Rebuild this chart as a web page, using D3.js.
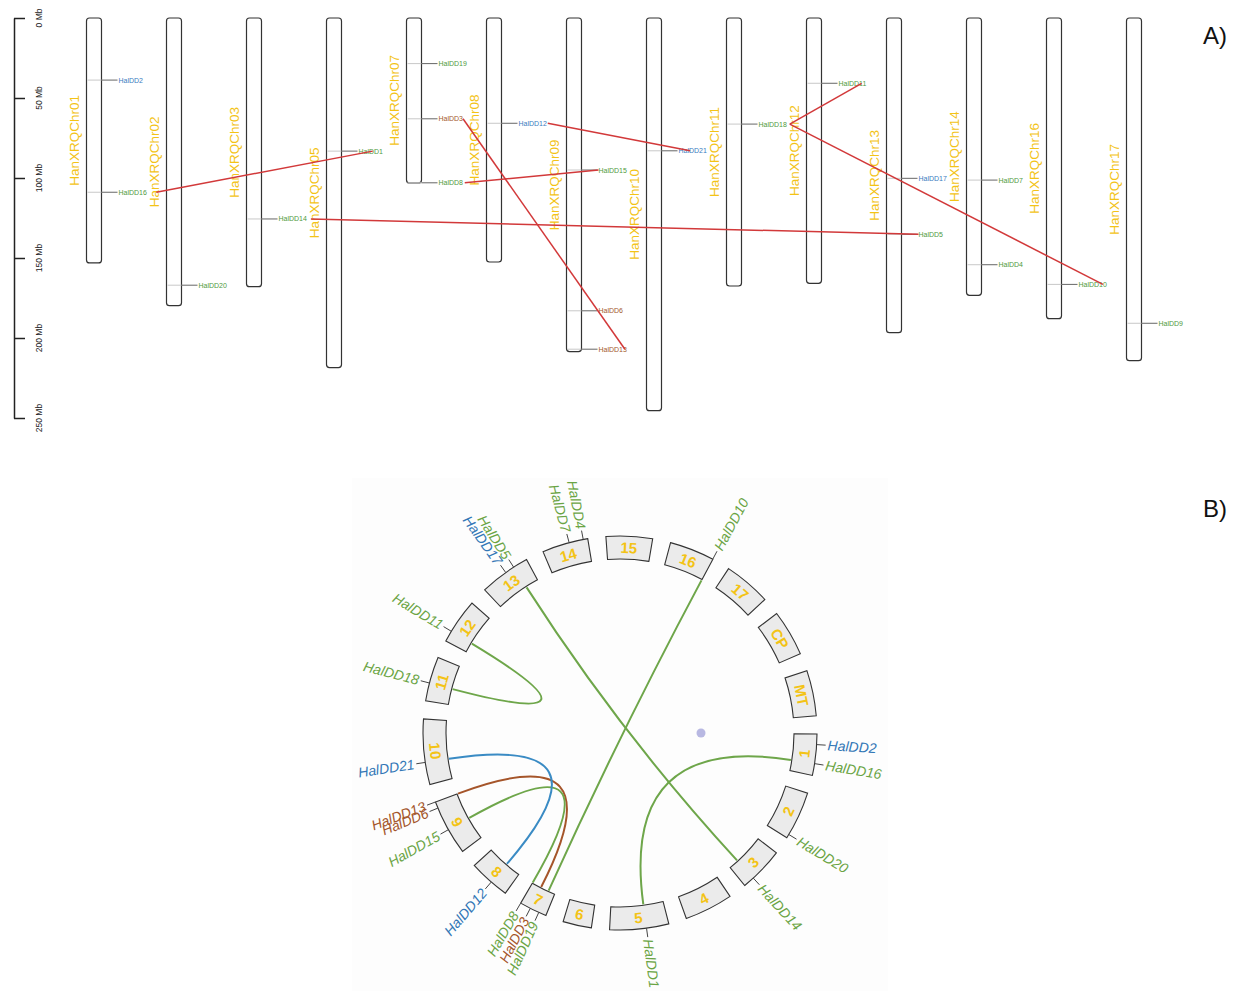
<!DOCTYPE html>
<html>
<head>
<meta charset="utf-8">
<script src="https://cdn.jsdelivr.net/npm/d3@7"></script>
<style>
  body { margin: 0; background: #fff; }
  svg { display: block; }
  text { font-family: "Liberation Sans", Arial, sans-serif; }
</style>
</head>
<body>
<svg id="chart" width="1244" height="991"></svg>
<script>
// ---------------- data ----------------
// Linear chromosome map (panel A): chromosomes and lengths in Mb
const chromosomes = ["HanXRQChr01","HanXRQChr02","HanXRQChr03","HanXRQChr05","HanXRQChr07",
  "HanXRQChr08","HanXRQChr09","HanXRQChr10","HanXRQChr11","HanXRQChr12","HanXRQChr13",
  "HanXRQChr14","HanXRQChr16","HanXRQChr17"];
const chrLengths = [153.1, 179.8, 167.9, 218.5, 103.1, 152.5, 208.5, 245.4, 167.5, 165.8, 196.7, 173.3, 187.9, 214.2];
const axisTicksMb = [0, 50, 100, 150, 200, 250];

// HalDD genes: chromosome, position (Mb) and subgroup
const geneNames = ["HalDD1","HalDD2","HalDD3","HalDD4","HalDD5","HalDD6","HalDD7","HalDD8","HalDD9","HalDD10",
  "HalDD11","HalDD12","HalDD13","HalDD14","HalDD15","HalDD16","HalDD17","HalDD18","HalDD19","HalDD20","HalDD21"];
const geneChrom = ["HanXRQChr05","HanXRQChr01","HanXRQChr07","HanXRQChr14","HanXRQChr13","HanXRQChr09","HanXRQChr14",
  "HanXRQChr07","HanXRQChr17","HanXRQChr16","HanXRQChr12","HanXRQChr08","HanXRQChr09","HanXRQChr03","HanXRQChr09",
  "HanXRQChr01","HanXRQChr13","HanXRQChr11","HanXRQChr07","HanXRQChr02","HanXRQChr10"];
const genePosMb = [83.2, 38.8, 63.0, 154.2, 135.2, 183.0, 101.3, 103.0, 190.8, 166.5,
  40.8, 65.8, 207.0, 125.6, 95.0, 108.9, 100.2, 66.3, 28.5, 167.0, 83.0];
const geneGroup = ["green","blue","brown","green","green","brown","green","green","green","green",
  "green","blue","brown","green","green","green","blue","green","green","green","blue"];

// Segmental duplication pairs shown on the linear map
const syntenyPairsA = [["HalDD16","HalDD1"],["HalDD14","HalDD5"],["HalDD3","HalDD13"],["HalDD8","HalDD15"],
  ["HalDD12","HalDD21"],["HalDD18","HalDD11"],["HalDD18","HalDD10"]];

// Circular view (panel B): ring segments and their sizes
const ringNames = ["1","2","3","4","5","6","7","8","9","10","11","12","13","14","15","16","17","CP","MT"];
const ringLengths = [153, 181, 167, 180, 219, 106, 103, 153, 207, 243, 165, 169, 190, 171, 172, 167, 175, 171, 169];
const circosGenes = ["HalDD2","HalDD16","HalDD20","HalDD14","HalDD1","HalDD19","HalDD3","HalDD8","HalDD12",
  "HalDD15","HalDD6","HalDD13","HalDD21","HalDD18","HalDD11","HalDD17","HalDD5","HalDD7","HalDD4","HalDD10"];
const syntenyPairsB = [["HalDD16","HalDD1"],["HalDD14","HalDD5"],["HalDD19","HalDD10"],["HalDD3","HalDD13"],
  ["HalDD8","HalDD15"],["HalDD12","HalDD21"],["HalDD18","HalDD11"]];

const panelLabels = ["A)", "B)"];

// ---------------- styling ----------------
const gold = "#f3c316";
const colA = { green: "#4f9a3c", blue: "#3b7cc0", brown: "#a4592b" };
const colB = { green: "#6aa444", blue: "#3377b6", brown: "#a4562b" };
const linkB = { green: "#6ea64a", blue: "#3a8bc4", brown: "#a5552a" };
const redLink = "#d2393a";

const svg = d3.select("#chart");
const gene = Object.fromEntries(geneNames.map((n, i) => [n, { name: n, chrom: geneChrom[i], pos: genePosMb[i], group: geneGroup[i] }]));

// ================= Panel A: linear map =================
const gA = svg.append("g");
const y = d3.scaleLinear().domain([0, 250]).range([18, 418]);
const x = d3.scaleBand().domain(chromosomes).range([54, 1174]).paddingInner(0).align(0.5);
const cxA = c => x(c) + x.bandwidth() / 2;
const barW = 15;

// scale bar
const axisG = gA.append("g").attr("transform", "translate(14,0)")
  .call(d3.axisRight(y).tickValues(axisTicksMb).tickSize(11).tickSizeOuter(0).tickFormat(""));
axisG.selectAll("path,line").attr("stroke", "#222").attr("stroke-width", 1.5);
gA.selectAll("text.tick-lab").data(axisTicksMb).join("text")
  .attr("class", "tick-lab")
  .attr("transform", d => `translate(42,${y(d)}) rotate(-90)`)
  .attr("text-anchor", "middle")
  .attr("font-size", 8.5).attr("fill", "#222")
  .text(d => d + " Mb");

// chromosome bars
gA.selectAll("rect.chr").data(chromosomes).join("rect")
  .attr("class", "chr")
  .attr("x", c => cxA(c) - barW / 2).attr("y", y(0))
  .attr("width", barW).attr("height", (c, i) => y(chrLengths[i]) - y(0))
  .attr("rx", 3).attr("fill", "#fff").attr("stroke", "#333").attr("stroke-width", 1.2);

gA.selectAll("text.chr-lab").data(chromosomes).join("text")
  .attr("class", "chr-lab")
  .attr("transform", (c, i) => `translate(${cxA(c) - 20},${y(chrLengths[i] / 2)}) rotate(-90)`)
  .attr("text-anchor", "middle").attr("dominant-baseline", "central")
  .attr("font-size", 13.5).attr("fill", gold)
  .text(c => c);

// gene markers
const genesA = geneNames.map(n => gene[n]);
gA.selectAll("line.gin").data(genesA).join("line")
  .attr("x1", g => cxA(g.chrom) - barW / 2 + 1).attr("x2", g => cxA(g.chrom) + barW / 2)
  .attr("y1", g => y(g.pos)).attr("y2", g => y(g.pos))
  .attr("stroke", "#c8c8c8").attr("stroke-width", 1);
gA.selectAll("line.gout").data(genesA).join("line")
  .attr("x1", g => cxA(g.chrom) + barW / 2).attr("x2", g => cxA(g.chrom) + barW / 2 + 16)
  .attr("y1", g => y(g.pos)).attr("y2", g => y(g.pos))
  .attr("stroke", "#666").attr("stroke-width", 1);
const labA = gA.selectAll("text.glab").data(genesA).join("text")
  .attr("class", "glab")
  .attr("x", g => cxA(g.chrom) + barW / 2 + 17).attr("y", g => y(g.pos))
  .attr("dominant-baseline", "central")
  .attr("font-size", 7).attr("fill", g => colA[g.group])
  .text(g => g.name);

const labExtent = {};
labA.each(function (g) {
  const x0 = +this.getAttribute("x");
  labExtent[g.name] = [x0, x0 + this.getComputedTextLength()];
});

// where each duplication line meets its gene label (fraction along the label)
const anchorA = [[1.33, 0.58], [1.14, 0.0], [1.0, 0.93], [1.07, 0.0], [1.03, 0.41], [1.1, 0.83], [1.1, 0.86]];
const atLabel = (name, f) => labExtent[name][0] + f * (labExtent[name][1] - labExtent[name][0]);
gA.selectAll("line.syn").data(syntenyPairsA).join("line")
  .attr("class", "syn")
  .attr("x1", (p, i) => atLabel(p[0], anchorA[i][0])).attr("y1", p => y(gene[p[0]].pos))
  .attr("x2", (p, i) => atLabel(p[1], anchorA[i][1])).attr("y2", p => y(gene[p[1]].pos))
  .attr("stroke", redLink).attr("stroke-width", 1.5);

// ================= Panel B: circular view =================
svg.append("rect").attr("x", 352).attr("y", 478).attr("width", 536).attr("height", 513).attr("fill", "#fdfdfd");
const cxB = 620, cyB = 733, rIn = 174, rOut = 197, rLink = 173;
const gB = svg.append("g").attr("transform", `translate(${cxB},${cyB})`);
const gapUnits = 67;
const offsets = [];
let acc = 0;
ringLengths.forEach(L => { offsets.push(acc); acc += L + gapUnits; });
const ang = d3.scaleLinear().domain([0, acc]).range([90.3, 450.3]);   // degrees, clockwise from top
const rad = d => d * Math.PI / 180;
const pt = (deg, r) => [r * Math.sin(rad(deg)), -r * Math.cos(rad(deg))];
const norm = d => ((d % 360) + 360) % 360;

const segIndex = chrom => ringNames.indexOf(String(parseInt(chrom.slice(-2), 10)));
const geneAngle = g => ang(offsets[segIndex(g.chrom)] + g.pos);

const arc = d3.arc().innerRadius(rIn).outerRadius(rOut);
gB.selectAll("path.seg").data(ringNames).join("path")
  .attr("d", (n, i) => arc({ startAngle: rad(ang(offsets[i])), endAngle: rad(ang(offsets[i] + ringLengths[i])) }))
  .attr("fill", "#ebebeb").attr("stroke", "#333").attr("stroke-width", 1.1);

gB.selectAll("text.seg-lab").data(ringNames).join("text")
  .attr("transform", (n, i) => {
    const a = norm(ang(offsets[i] + ringLengths[i] / 2));
    const [px, py] = pt(a, (rIn + rOut) / 2);
    const rot = (a > 90 && a < 270) ? a - 180 : a;
    return `translate(${px},${py}) rotate(${rot})`;
  })
  .attr("text-anchor", "middle").attr("dominant-baseline", "central")
  .attr("font-size", 15).attr("font-weight", "bold").attr("fill", gold)
  .text(n => n);

// duplication links through the centre
const linkPath = p => {
  const a1 = geneAngle(gene[p[0]]), a2 = geneAngle(gene[p[1]]);
  const [x1, y1] = pt(a1, rLink), [x2, y2] = pt(a2, rLink);
  const path = d3.path();
  path.moveTo(x1, y1);
  path.quadraticCurveTo(0, 0, x2, y2);
  return path.toString();
};
gB.selectAll("path.link").data(syntenyPairsB).join("path")
  .attr("d", linkPath).attr("fill", "none")
  .attr("stroke", p => linkB[gene[p[0]].group]).attr("stroke-width", 2);

// gene ticks and labels
const genesB = circosGenes.map(n => gene[n]);
gB.selectAll("line.gt").data(genesB).join("line")
  .attr("x1", g => pt(geneAngle(g), rOut)[0]).attr("y1", g => pt(geneAngle(g), rOut)[1])
  .attr("x2", g => pt(geneAngle(g), rOut + 9)[0]).attr("y2", g => pt(geneAngle(g), rOut + 9)[1])
  .attr("stroke", "#444").attr("stroke-width", 1);
gB.selectAll("text.gl").data(genesB).join("text")
  .attr("transform", g => {
    const a = norm(geneAngle(g));
    return `rotate(${a - 90}) translate(${rOut + 11},0)` + (a >= 180 ? " rotate(180)" : "");
  })
  .attr("text-anchor", g => norm(geneAngle(g)) >= 180 ? "end" : "start")
  .attr("dominant-baseline", "central")
  .attr("font-size", 14).attr("font-style", "italic")
  .attr("fill", g => colB[g.group])
  .text(g => g.name);

// small marker dot inside the ring
const [dx, dy] = pt(90, 81);
gB.append("circle").attr("cx", dx).attr("cy", dy).attr("r", 4.5).attr("fill", "#b8b8e2");

// ================= panel letters =================
svg.selectAll("text.panel").data(panelLabels).join("text")
  .attr("x", 1203).attr("y", (d, i) => i === 0 ? 44 : 517)
  .attr("font-family", "'Liberation Serif', 'Times New Roman', serif")
  .attr("font-size", 24).attr("fill", "#111")
  .text(d => d);
</script>
</body>
</html>
